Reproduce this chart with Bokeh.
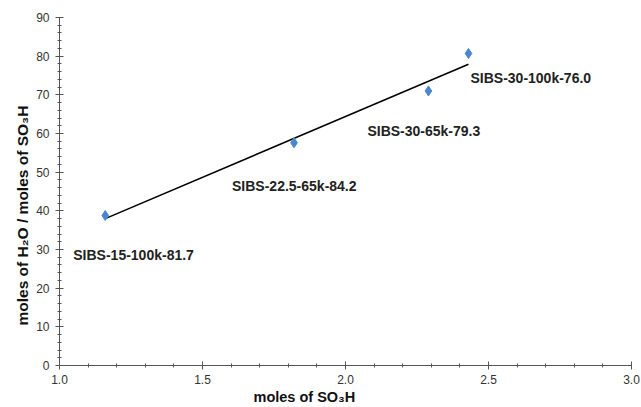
import numpy as np
from bokeh.plotting import figure
from bokeh.models import SingleIntervalTicker, Range1d, ColumnDataSource, NumeralTickFormatter, Title
from bokeh.core.properties import value
from bokeh.embed import file_html
from bokeh.resources import INLINE

so3h = [1.16, 1.82, 2.29, 2.43]
water_ratio = [38.8, 57.6, 71.0, 80.7]
names = ["SIBS-15-100k-81.7", "SIBS-22.5-65k-84.2", "SIBS-30-65k-79.3", "SIBS-30-100k-76.0"]
label_dx = [-32, -62, -61, 2]
label_dy = [40, 43, 40, 25]
x_title = "moles of SO₃H"
y_title = "moles of H₂O / moles of SO₃H"

slope, intercept = np.polyfit(so3h, water_ratio, 1)
fit_x = [min(so3h), max(so3h)]
fit_y = [slope * v + intercept for v in fit_x]

p = figure(width=641, height=407, output_backend="svg", toolbar_location=None,
           x_range=Range1d(1.0, 3.0), y_range=Range1d(0, 90),
           min_border_left=59, min_border_right=10, min_border_top=17, min_border_bottom=42)
p.outline_line_color = None
p.xgrid.visible = False
p.ygrid.visible = False

p.line(fit_x, fit_y, line_color="black", line_width=1.5)
p.scatter(so3h, water_ratio, marker="diamond", size=10, fill_color="#4a86d0", line_color="#4a86d0")

src = ColumnDataSource(dict(x=so3h, y=water_ratio, t=names, dx=label_dx, dy=label_dy))
p.text(x="x", y="y", text="t", x_offset="dx", y_offset="dy", source=src,
       text_font=value("Liberation Sans"), text_font_style="bold", text_font_size="14px",
       text_color="#222222", text_baseline="middle", text_align="left")

for ax in (p.xaxis[0], p.yaxis[0]):
    ax.axis_line_color = "#555555"
    ax.major_tick_line_color = "#555555"
    ax.minor_tick_line_color = "#555555"
    ax.major_tick_in = 4
    ax.major_tick_out = 4
    ax.minor_tick_in = 2
    ax.minor_tick_out = 2
    ax.major_label_text_font = "Liberation Sans"
    ax.major_label_text_font_size = "12px"
    ax.major_label_text_color = "#333333"

p.xaxis[0].ticker = SingleIntervalTicker(interval=0.5, num_minor_ticks=5)
p.xaxis[0].formatter = NumeralTickFormatter(format="0.0")
p.yaxis[0].ticker = SingleIntervalTicker(interval=10, num_minor_ticks=5)
p.xaxis[0].major_label_standoff = 5
p.yaxis[0].major_label_standoff = 6

# axis titles, offset from the frame centre as in the reference
p.add_layout(Title(text=x_title, align="left", offset=194, standoff=0,
                   text_font="Liberation Sans", text_font_style="bold",
                   text_font_size="14.5px", text_color="#111111"), "below")
p.add_layout(Title(text=y_title, align="left", offset=40, standoff=5,
                   text_font="Liberation Sans", text_font_style="bold",
                   text_font_size="15.5px", text_color="#111111"), "left")

open("out.html", "w").write(file_html(p, INLINE))
